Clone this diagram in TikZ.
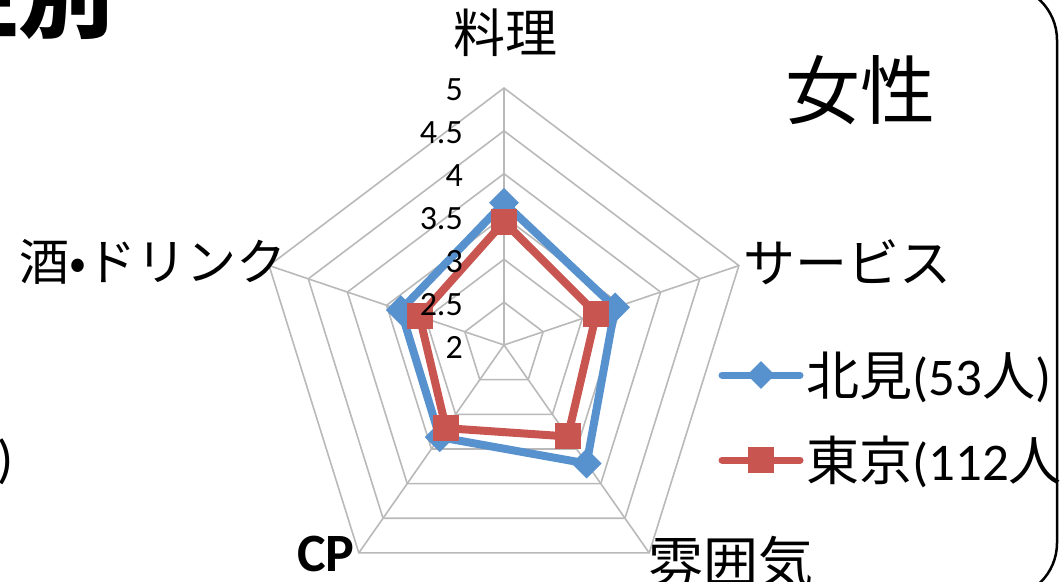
\documentclass[tikz,border=0pt]{standalone}
\usepackage{fontspec}
\setmainfont{Carlito}
\newfontfamily\jp{Noto Sans CJK JP}
\usepackage{tikz}
\usetikzlibrary{shapes.geometric}
\definecolor{kitami}{RGB}{88,146,206}
\definecolor{tokyo}{RGB}{200,85,80}

\begin{document}
\begin{tikzpicture}
[x=1pt,y=-1pt
,grid/.style={draw=gray!55,line width=1.6pt}
,bl/.style={draw=kitami,line width=8pt,line join=round}
,rl/.style={draw=tokyo,line width=8pt,line join=round}
,bm/.style={diamond,fill=kitami,minimum size=30pt,inner sep=0pt}
,rm/.style={rectangle,fill=tokyo,minimum size=26pt,inner sep=0pt}
,axl/.style={font=\jp\fontsize{52}{58}\selectfont,inner sep=0pt}
,tick/.style={font=\fontsize{34}{38}\selectfont,inner sep=0pt,anchor=east}
,leg/.style={font=\fontsize{53}{58}\selectfont,inner sep=0pt,anchor=west}]
\useasboundingbox (0,0) rectangle (1062,581);
\clip (0,0) rectangle (1062,581);
\begin{scope}[shift={(504,345)},xscale=247,yscale=-257]
\foreach \r in {1,...,6}
  \draw[grid] (90:\r/6) -- (18:\r/6) -- (-54:\r/6) -- (-126:\r/6) -- (162:\r/6) -- cycle;
\foreach \a in {90,18,-54,-126,162}
  \draw[grid] (0,0) -- (\a:1);
\foreach \a/\v [count=\i] in {90/3.66,18/3.42,-54/3.71,-126/3.33,162/3.32}
  \coordinate (k\i) at (\a:{(\v-2)/3});
\foreach \a/\v [count=\i] in {90/3.44,18/3.18,-54/3.32,-126/3.20,162/3.08}
  \coordinate (t\i) at (\a:{(\v-2)/3});
\draw[bl] (k1) -- (k2) -- (k3) -- (k4) -- (k5) -- cycle;
\foreach \i in {1,...,5} \node[bm] (km\i) at (k\i) {};
\draw[rl] (t1) -- (t2) -- (t3) -- (t4) -- (t5) -- cycle;
\foreach \i in {1,...,5} \node[rm] (tm\i) at (t\i) {};
\end{scope}
\foreach \v in {2,2.5,3,3.5,4,4.5,5}
  \node[tick] at (463,{347-257*(\v-2)/3}) {\v};
\node[axl] (ryori) at (505,33) {料理};
\node[axl,anchor=west] (service) at (743,262) {サービス};
\node[axl,anchor=north west,font=\jp\fontsize{55}{60}\selectfont] (fun) at (648,536) {雰囲気};
\node[axl,anchor=north west,font=\bfseries\fontsize{54}{60}\selectfont] (cp) at (297,536) {CP};
\node[axl,anchor=east,font=\jp\fontsize{50}{56}\selectfont] (drink) at (287,262) {酒•ドリンク};
\node[axl,font=\jp\fontsize{75}{82}\selectfont] (josei) at (860,90) {女性};
\node[axl,anchor=base east,font=\jp\bfseries\fontsize{95}{100}\selectfont] (seibetsu) at (114,30) {性別};
\node[leg,anchor=east] (paren) at (14,462) {)};
\coordinate (l1a) at (722,375);
\coordinate (l1b) at (800,375);
\coordinate (l2a) at (722,460);
\coordinate (l2b) at (800,460);
\draw[bl,line cap=round,line width=7pt] (l1a) -- (l1b);
\draw[rl,line cap=round,line width=7pt] (l2a) -- (l2b);
\node[bm,minimum size=28pt] (lk) at (761,375) {};
\node[rm,minimum size=26pt] (lt) at (761,460) {};
\node[leg] (kitamitxt) at (806,377) {{\jp 北見}(53{\jp 人})};
\node[leg] (tokyotxt) at (806,462) {{\jp 東京}(112{\jp 人}};
\draw[line width=2.5pt,rounded corners=55pt] (-200,-15) rectangle (1057,598);
\end{tikzpicture}
\end{document}
